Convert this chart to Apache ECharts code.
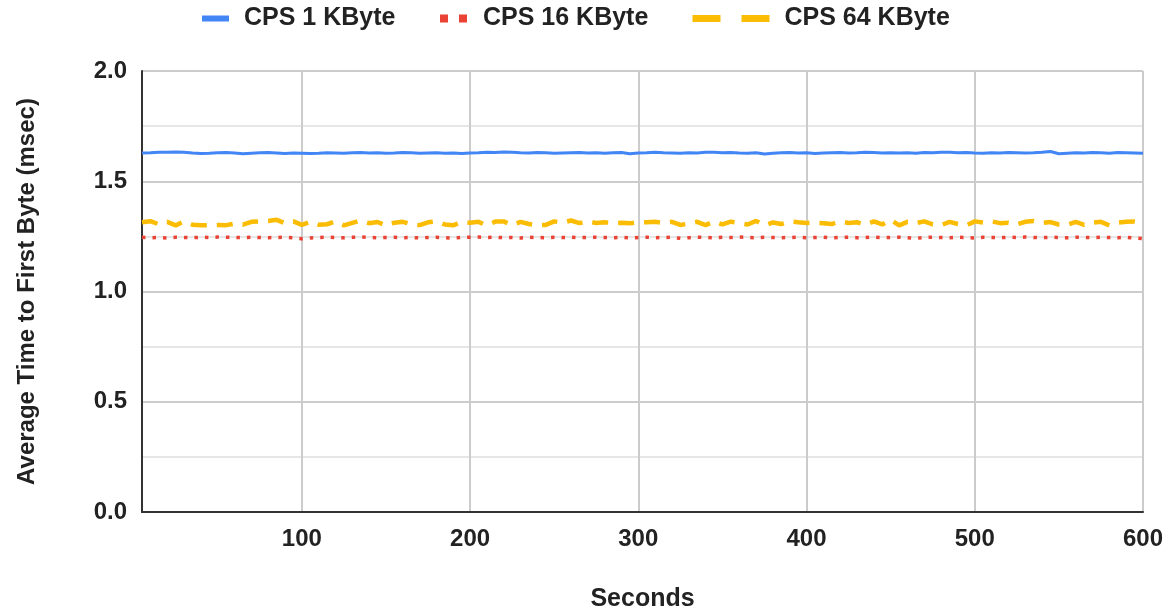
<!DOCTYPE html>
<html>
<head>
<meta charset="utf-8">
<script src="https://cdn.jsdelivr.net/npm/echarts@6/dist/echarts.min.js"></script>
<style>html,body{margin:0;padding:0;background:#fff}#c{width:1174px;height:612px}</style>
</head>
<body>
<div id="c"></div>
<script>
var seconds = [5,10,15,20,25,30,35,40,45,50,55,60,65,70,75,80,85,90,95,100,
105,110,115,120,125,130,135,140,145,150,155,160,165,170,175,180,185,190,195,200,
205,210,215,220,225,230,235,240,245,250,255,260,265,270,275,280,285,290,295,300,
305,310,315,320,325,330,335,340,345,350,355,360,365,370,375,380,385,390,395,400,
405,410,415,420,425,430,435,440,445,450,455,460,465,470,475,480,485,490,495,500,
505,510,515,520,525,530,535,540,545,550,555,560,565,570,575,580,585,590,595,600];

var cps1 = [1.628,1.629,1.631,1.632,1.633,1.631,1.628,1.626,1.627,1.629,
1.630,1.628,1.625,1.627,1.629,1.630,1.628,1.626,1.628,1.627,
1.626,1.627,1.629,1.628,1.627,1.629,1.630,1.628,1.629,1.627,
1.628,1.630,1.629,1.627,1.628,1.629,1.627,1.628,1.626,1.628,
1.629,1.631,1.630,1.633,1.631,1.629,1.628,1.630,1.629,1.627,
1.628,1.629,1.630,1.628,1.629,1.627,1.629,1.630,1.625,1.628,
1.629,1.631,1.629,1.628,1.627,1.629,1.628,1.631,1.632,1.629,
1.630,1.628,1.627,1.629,1.624,1.627,1.629,1.630,1.628,1.629,
1.626,1.628,1.629,1.630,1.628,1.629,1.631,1.630,1.628,1.629,
1.628,1.629,1.627,1.630,1.629,1.631,1.632,1.629,1.630,1.628,
1.627,1.629,1.628,1.630,1.629,1.628,1.629,1.631,1.635,1.625,
1.627,1.629,1.628,1.630,1.629,1.627,1.630,1.629,1.628,1.627];

var cps16 = [1.246,1.244,1.245,1.243,1.246,1.245,1.244,1.246,1.245,1.247,
1.246,1.245,1.244,1.246,1.245,1.244,1.245,1.246,1.244,1.239,
1.243,1.245,1.246,1.245,1.244,1.246,1.247,1.245,1.244,1.245,
1.246,1.244,1.245,1.243,1.245,1.246,1.244,1.242,1.245,1.246,
1.247,1.245,1.246,1.244,1.245,1.243,1.246,1.245,1.244,1.246,
1.245,1.246,1.244,1.245,1.246,1.245,1.244,1.246,1.243,1.245,
1.246,1.244,1.245,1.246,1.241,1.244,1.246,1.245,1.244,1.246,
1.245,1.247,1.245,1.244,1.246,1.245,1.244,1.245,1.246,1.244,
1.245,1.246,1.243,1.245,1.246,1.244,1.245,1.247,1.244,1.245,
1.246,1.244,1.241,1.245,1.246,1.245,1.244,1.246,1.245,1.243,
1.246,1.245,1.244,1.246,1.245,1.247,1.245,1.244,1.246,1.245,
1.244,1.246,1.245,1.244,1.246,1.245,1.244,1.246,1.243,1.240];

var cps64 = [1.314,1.319,1.305,1.316,1.300,1.318,1.303,1.301,1.300,1.302,
1.301,1.308,1.303,1.316,1.318,1.320,1.325,1.310,1.318,1.302,
1.316,1.303,1.305,1.318,1.300,1.311,1.322,1.310,1.315,1.299,
1.312,1.316,1.305,1.301,1.314,1.318,1.304,1.300,1.316,1.312,
1.316,1.300,1.317,1.318,1.301,1.316,1.306,1.300,1.302,1.318,
1.312,1.322,1.310,1.318,1.311,1.314,1.310,1.312,1.309,1.314,
1.314,1.316,1.311,1.316,1.302,1.308,1.316,1.301,1.318,1.304,
1.317,1.310,1.304,1.320,1.300,1.313,1.306,1.318,1.314,1.311,
1.312,1.310,1.306,1.318,1.311,1.314,1.303,1.318,1.304,1.325,
1.300,1.316,1.310,1.318,1.304,1.301,1.316,1.306,1.300,1.318,
1.313,1.318,1.310,1.312,1.304,1.316,1.320,1.311,1.315,1.304,
1.303,1.316,1.302,1.312,1.316,1.300,1.312,1.316,1.318,1.314];

var xTicks = [100, 200, 300, 400, 500, 600];
var seriesNames = ['CPS 1 KByte', 'CPS 16 KByte', 'CPS 64 KByte'];

function pairs(ys) { return seconds.map(function (s, i) { return [s, ys[i]]; }); }

var FONT = "'Liberation Sans', Arial, sans-serif";
var txt = { fontFamily: FONT, fontSize: 25, fontWeight: 'bold', color: '#222', padding: [0, 0, 0, 10] };

function legendFor(i, left, w, lw, dash) {
  return { data: [seriesNames[i]], left: left, top: 6, padding: 0, itemWidth: w, itemHeight: 30,
    textStyle: txt, lineStyle: { width: lw, type: dash, cap: 'butt' },
    itemStyle: { opacity: 0, borderWidth: 0 } };
}

var chart = echarts.init(document.getElementById('c'), null, { renderer: 'canvas' });
chart.setOption({
  animation: false,
  backgroundColor: '#fff',
  legend: [
    legendFor(0, 199, 27, 6, 'solid'),
    legendFor(1, 436, 28, 8, [8, 11]),
    legendFor(2, 689, 77, 7, [28, 21])
  ],
  grid: { left: 142, right: 31, top: 71, bottom: 100, containLabel: false, outerBoundsMode: 'none' },
  xAxis: {
    type: 'value', min: 5, max: 600,
    name: 'Seconds', nameLocation: 'middle', nameGap: 75,
    nameTextStyle: { fontFamily: FONT, fontSize: 25, fontWeight: 'bold', color: '#222' },
    axisLine: { show: true, lineStyle: { color: '#333', width: 2 } },
    axisTick: { show: false, customValues: xTicks },
    axisLabel: { customValues: xTicks, margin: 15, fontFamily: FONT, fontSize: 24, fontWeight: 'bold', color: '#222' },
    splitLine: { show: true, lineStyle: { color: '#cccccc', width: 2 } }
  },
  yAxis: {
    type: 'value', min: 0, max: 2, interval: 0.5,
    name: 'Average Time to First Byte (msec)', nameLocation: 'middle', nameGap: 103,
    nameTextStyle: { fontFamily: FONT, fontSize: 24, fontWeight: 'bold', color: '#222' },
    axisLine: { show: true, lineStyle: { color: '#333', width: 2 } },
    axisTick: { show: false },
    axisLabel: { margin: 15, fontFamily: FONT, fontSize: 24, fontWeight: 'bold', color: '#222',
      formatter: function (v) { return v.toFixed(1); } },
    splitLine: { show: true, lineStyle: { color: '#cccccc', width: 2 } },
    minorTick: { show: false, splitNumber: 2 },
    minorSplitLine: { show: true, lineStyle: { color: '#e6e6e6', width: 2 } }
  },
  series: [
    { name: seriesNames[0], type: 'line', data: pairs(cps1), symbol: 'none', z: 3,
      lineStyle: { color: '#4285F4', width: 3 }, itemStyle: { color: '#4285F4' } },
    { name: seriesNames[1], type: 'line', data: pairs(cps16), symbol: 'none', z: 2,
      lineStyle: { color: '#EA4335', width: 3.5, type: [3.5, 7] }, itemStyle: { color: '#EA4335' } },
    { name: seriesNames[2], type: 'line', data: pairs(cps64), symbol: 'none', z: 2,
      lineStyle: { color: '#FBBC04', width: 4.5, type: [16, 10] }, itemStyle: { color: '#FBBC04' } }
  ]
});
</script>
</body>
</html>
